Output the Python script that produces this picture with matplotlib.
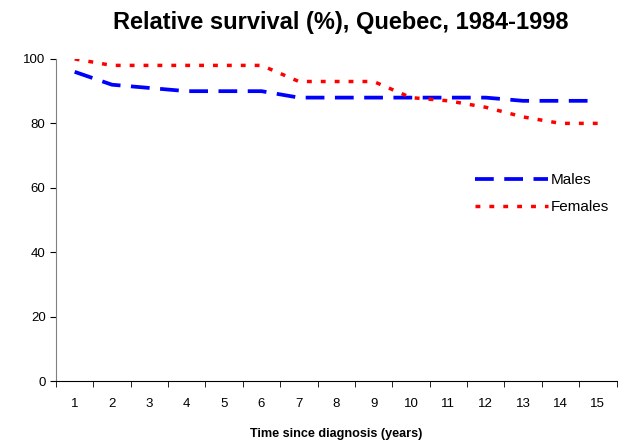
import matplotlib
matplotlib.use('Agg')
import matplotlib.pyplot as plt
import numpy as np

plt.rcParams['font.family'] = ['Liberation Sans', 'DejaVu Sans']

# ── Data ──────────────────────────────────────────────────────────────────────
years   = [1, 2, 3, 4, 5, 6, 7, 8, 9, 10, 11, 12, 13, 14, 15]
males   = [96, 92, 91, 90, 90, 90, 88, 88, 88, 88, 88, 88, 87, 87, 87]
females = [100, 98, 98, 98, 98, 98, 93, 93, 93, 88, 87, 85, 82, 80, 80]
yticks  = [0, 20, 40, 60, 80, 100]

# ── Figure ────────────────────────────────────────────────────────────────────
fig = plt.figure(figsize=(6.18, 4.4), dpi=100)
ax = fig.add_axes([0.0906, 0.134, 0.907, 0.732])

ax.plot(years, males, color='#0000FF', linewidth=2.7, linestyle=(0, (5, 2.8)),
        label='Males')
ax.plot(years, females, color='#FF0000', linewidth=2.5, linestyle=(0, (1.4, 2.6)),
        label='Females')

ax.set_xlim(0.5, 15.5)
ax.set_ylim(0, 100)
ax.set_yticks(yticks)
ax.set_xticks(years)
ax.set_xticks(np.arange(0.5, 16, 1), minor=True)
ax.tick_params(axis='x', which='major', length=0, pad=12, labelsize=9.5)
ax.tick_params(axis='x', which='minor', length=4, direction='out')
ax.tick_params(axis='y', length=4, direction='out', labelsize=9.5)

for side in ('top', 'right'):
    ax.spines[side].set_visible(False)
ax.spines['left'].set_color('#808080')

ax.set_xlabel('Time since diagnosis (years)', fontsize=9.1, fontweight='bold',
              labelpad=13)
fig.suptitle('Relative survival (%), Quebec, 1984-1998', fontsize=17,
             fontweight='bold', x=0.552, y=0.975)

ax.legend(loc='upper left', bbox_to_anchor=(0.747, 0.645), frameon=False,
          borderpad=0, borderaxespad=0,
          fontsize=11, handlelength=4.8, handletextpad=0.2, labelspacing=0.85)

fig.savefig('out.png', dpi=100)
